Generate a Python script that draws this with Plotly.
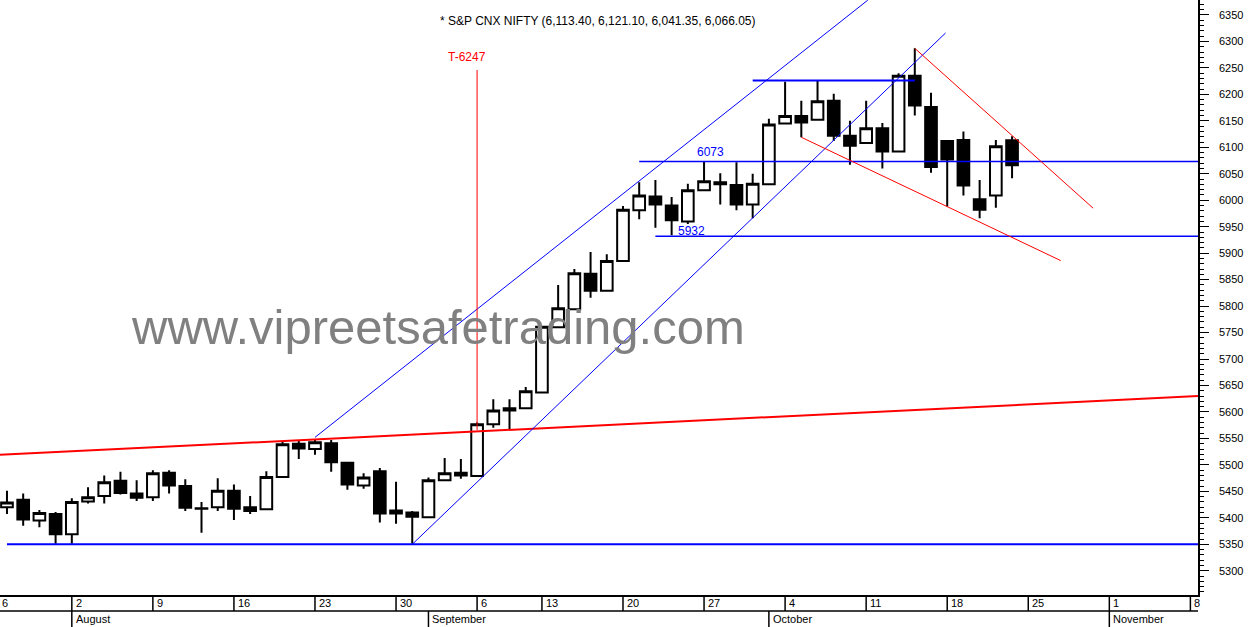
import plotly.graph_objects as go

# ---------------- data ----------------
idx = list(range(63))
open_ = [5420, 5434, 5395, 5407, 5369, 5431, 5441, 5470, 5446, 5439,
         5485, 5460, 5417, 5420, 5451, 5420, 5416, 5477, 5540, 5530,
         5541, 5504, 5461, 5488, 5408, 5410, 5401, 5471, 5485, 5479,
         5577, 5603, 5607, 5637, 5760, 5794, 5861, 5829, 5885, 5981,
         6007, 5990, 5960, 6019, 6034, 6029, 5992, 6030, 6145, 6159,
         6152, 6188, 6122, 6108, 6136, 6092, 6235, 6176, 6112, 6114,
         6002, 6009, 6113.40]
high = [5451, 5446, 5415, 5411, 5437, 5458, 5480, 5487, 5471, 5490,
        5490, 5473, 5430, 5475, 5463, 5441, 5488, 5545, 5547, 5548,
        5547, 5504, 5484, 5494, 5468, 5413, 5476, 5513, 5511, 5580,
        5624, 5624, 5647, 5763, 5840, 5870, 5902, 5898, 5989, 6034,
        6038, 6006, 6031, 6074, 6051, 6072, 6050, 6154, 6224, 6188,
        6226, 6201, 6150, 6188, 6146, 6240, 6287, 6203, 6114, 6130,
        6038, 6114, 6121.10]
low = [5407, 5385, 5382, 5351, 5351, 5427, 5427, 5444, 5432, 5432,
       5446, 5413, 5372, 5413, 5396, 5407, 5416, 5477, 5511, 5519,
       5487, 5453, 5455, 5391, 5389, 5351, 5401, 5471, 5474, 5478,
       5570, 5566, 5607, 5636, 5758, 5792, 5816, 5829, 5885, 5964,
       5948, 5934, 5955, 6018, 5992, 5981, 5966, 6030, 6145, 6119,
       6152, 6112, 6067, 6108, 6060, 6090, 6160, 6052, 5988, 6009,
       5966, 5986, 6041.35]
close = [5429, 5397, 5409, 5369, 5430, 5439, 5467, 5447, 5438, 5484,
         5461, 5419, 5418, 5451, 5417, 5413, 5477, 5539, 5531, 5543,
         5505, 5463, 5476, 5408, 5414, 5402, 5471, 5484, 5480, 5577,
         5603, 5607, 5639, 5761, 5796, 5862, 5829, 5885, 5982, 6009,
         5992, 5962, 6019, 6036, 6030, 5992, 6031, 6143, 6159, 6147,
         6187, 6122, 6103, 6136, 6092, 6235, 6179, 6063, 6077, 6028,
         5982, 6102, 6066.05]

day_ticks = [-1, 4, 9, 14, 19, 24, 29, 33, 38, 43, 48, 53, 58, 63, 68, 73]
day_labels = ["6", "2", "9", "16", "23", "30", "6", "13", "20", "27",
              "4", "11", "18", "25", "1", "8"]
month_ticks = [4, 26, 47, 68]
month_labels = ["August", "September", "October", "November"]

# trend lines (x = trading-day slot, y = price)
X_MIN, X_MAX = -0.43, 73.47
Y_MIN, Y_MAX = 5254.2, 6378.3

base_x = [0, X_MAX];            base_y = [5350, 5350]
red_long_x = [X_MIN, X_MAX];    red_long_y = [5519, 5630]
chan_up_x = [19.0, 53.1];       chan_up_y = [5552, 6378]
chan_lo_x = [25.0, 57.9];       chan_lo_y = [5350, 6316]
res_x = [39.0, X_MAX];          res_y = [6073, 6073]
sup_x = [40.0, X_MAX];          sup_y = [5932, 5932]
top_x = [46.0, 56.0];           top_y = [6226, 6226]
red_lo_x = [49.0, 65.0];        red_lo_y = [6119, 5886]
red_up_x = [56.0, 67.0];        red_up_y = [6287, 5985]
tgt_x = [29, 29];               tgt_y = [6246, 5566]

title_text = "* S&P CNX NIFTY (6,113.40, 6,121.10, 6,041.35, 6,066.05)"
watermark = "www.vipreetsafetrading.com"

FONT = "Liberation Sans, Arial, sans-serif"
BLUE = "#0000FF"
RED = "#FF0000"

fig = go.Figure()

def line(xs, ys, color, width):
    fig.add_trace(go.Scatter(x=xs, y=ys, mode="lines",
                             line=dict(color=color, width=width),
                             hoverinfo="skip", showlegend=False))

line(base_x, base_y, BLUE, 2)
line(red_long_x, red_long_y, RED, 2)
line(chan_up_x, chan_up_y, BLUE, 1)
line(chan_lo_x, chan_lo_y, BLUE, 1)
line(res_x, res_y, BLUE, 1.5)
line(sup_x, sup_y, BLUE, 1.5)
line(top_x, top_y, BLUE, 2)
line(red_lo_x, red_lo_y, RED, 1)
line(red_up_x, red_up_y, RED, 1)
line(tgt_x, tgt_y, RED, 1)

fig.add_trace(go.Candlestick(
    x=idx, open=open_, high=high, low=low, close=close,
    increasing=dict(line=dict(color="black", width=2), fillcolor="white"),
    decreasing=dict(line=dict(color="black", width=2), fillcolor="black"),
    whiskerwidth=0, hoverinfo="skip", showlegend=False))

PLOT_H = 595.0  # pixel height of plot area

def py(pix):  # pixel row below plot -> paper y
    return (PLOT_H - pix) / PLOT_H

annotations = []
shapes = []
for t, lab in zip(day_ticks, day_labels):
    if t < X_MIN:
        # week tick lies left of the visible range: only its tail shows
        xr, xv, xs = "paper", 0, 0
    else:
        xr, xv, xs = "x", t, 2
    annotations.append(dict(x=xv, xref=xr, y=py(603), yref="paper",
                            text=lab, showarrow=False, xanchor="left",
                            yanchor="middle", xshift=xs,
                            font=dict(family=FONT, size=11, color="black")))
    shapes.append(dict(type="line", xref="x", yref="paper", x0=t, x1=t,
                       y0=py(595), y1=py(611),
                       line=dict(color="black", width=1.5)))
for t, lab in zip(month_ticks, month_labels):
    annotations.append(dict(x=t, xref="x", y=py(619), yref="paper",
                            text=lab, showarrow=False, xanchor="left",
                            yanchor="middle", xshift=2,
                            font=dict(family=FONT, size=11, color="black")))
    shapes.append(dict(type="line", xref="x", yref="paper", x0=t, x1=t,
                       y0=py(611), y1=py(627),
                       line=dict(color="black", width=1.5)))
shapes.append(dict(type="line", xref="paper", yref="paper", x0=0, x1=1,
                   y0=py(611), y1=py(611),
                   line=dict(color="black", width=1.5)))

annotations += [
    dict(x=0.499, y=py(11.5), xref="paper", yref="paper", text=title_text,
         showarrow=False, font=dict(family=FONT, size=12, color="black")),
    dict(x=0.3656, y=py(327), xref="paper", yref="paper", text=watermark,
         showarrow=False, font=dict(family=FONT, size=49, color="#808080")),
    dict(x=43.4, y=6092, xref="x", yref="y", text="6073", showarrow=False,
         font=dict(family=FONT, size=12, color=BLUE)),
    dict(x=42.2, y=5941, xref="x", yref="y", text="5932", showarrow=False,
         font=dict(family=FONT, size=12, color=BLUE)),
    dict(x=28.4, y=6271, xref="x", yref="y", text="T-6247", showarrow=False,
         font=dict(family=FONT, size=12, color=RED)),
]

fig.update_layout(
    width=1250, height=627,
    margin=dict(l=0, r=52, t=0, b=32),
    paper_bgcolor="white", plot_bgcolor="white",
    showlegend=False, hovermode=False,
    boxgap=0.28, boxgroupgap=0,
    annotations=annotations, shapes=shapes,
    xaxis=dict(range=[X_MIN, X_MAX], showgrid=False, zeroline=False,
               showticklabels=False, ticks="", showline=True,
               linecolor="black", linewidth=1.5, rangeslider=dict(visible=False),
               fixedrange=True),
    yaxis=dict(range=[Y_MIN, Y_MAX], side="right", showgrid=False,
               zeroline=False, dtick=50, tick0=5000, ticks="outside",
               ticklen=9, tickwidth=1, tickcolor="black",
               showline=True, linecolor="black", linewidth=1.5,
               ticklabelstandoff=8,
               tickfont=dict(family=FONT, size=11, color="black"),
               minor=dict(dtick=10, ticks="outside", ticklen=4,
                          tickcolor="black", tickwidth=1),
               fixedrange=True),
)

fig.write_html("out.html", config={"displayModeBar": False},
               post_script="document.body.style.margin='0';"
                           "document.body.style.overflow='hidden';")
